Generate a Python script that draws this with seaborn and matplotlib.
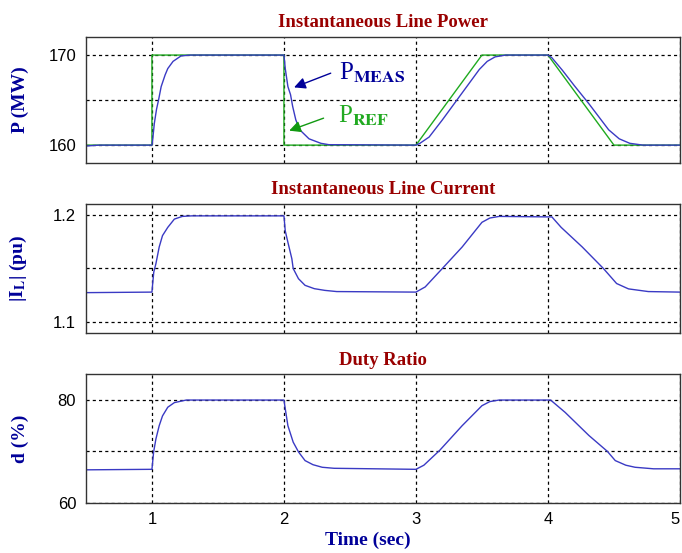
import matplotlib
matplotlib.use("Agg")
import matplotlib.pyplot as plt
import numpy as np
import pandas as pd
import seaborn as sns

# ---- data ----
t_ref = [0.5, 1.0, 1.0, 2.0, 2.0, 3.0, 3.5, 4.0, 4.5, 5.0]
p_ref = [160, 160, 170, 170, 160, 160, 170, 170, 160, 160]

t_meas = [0.5, 0.6, 1.0, 1.005, 1.018, 1.035, 1.05, 1.07, 1.10, 1.12, 1.16, 1.22, 1.29,
          2.0, 2.01, 2.03, 2.05, 2.066, 2.09, 2.12, 2.19, 2.28, 2.34,
          3.0, 3.03, 3.1, 3.2, 3.31, 3.40, 3.48, 3.54, 3.6, 3.68,
          4.0, 4.03, 4.11, 4.2, 4.31, 4.46, 4.54, 4.62, 4.72, 5.0]
p_meas = [159.9, 160.0, 160.0, 160.5, 162.4, 164.0, 165.0, 166.5, 167.8, 168.5, 169.3, 169.9, 170.0,
          170.0, 168.5, 166.5, 165.6, 164.3, 162.8, 161.7, 160.7, 160.2, 160.05,
          160.0, 160.2, 160.9, 162.8, 165.0, 166.8, 168.4, 169.3, 169.8, 170.0,
          170.0, 169.7, 168.3, 166.6, 164.6, 161.7, 160.7, 160.2, 160.0, 160.0]

t_cur = [0.5, 1.0, 1.005, 1.014, 1.03, 1.055, 1.08, 1.12, 1.17, 1.23, 1.3,
         2.0, 2.01, 2.03, 2.06, 2.07, 2.11, 2.16, 2.23, 2.31, 2.4,
         3.0, 3.07, 3.2, 3.35, 3.5, 3.56, 3.63,
         4.03, 4.1, 4.26, 4.42, 4.52, 4.61, 4.76, 5.0]
i_cur = [1.1275, 1.128, 1.135, 1.1467, 1.1544, 1.170, 1.1806, 1.1883, 1.196, 1.1985, 1.199,
         1.199, 1.185, 1.1744, 1.159, 1.150, 1.1405, 1.1343, 1.1312, 1.1296, 1.1285,
         1.128, 1.1328, 1.150, 1.170, 1.193, 1.197, 1.1985,
         1.198, 1.1883, 1.170, 1.150, 1.136, 1.131, 1.1285, 1.128]

t_duty = [0.5, 1.0, 1.013, 1.03, 1.055, 1.08, 1.12, 1.17, 1.26,
          2.0, 2.01, 2.03, 2.07, 2.11, 2.16, 2.22, 2.29, 2.38,
          3.0, 3.06, 3.18, 3.35, 3.5, 3.56, 3.63,
          4.02, 4.13, 4.31, 4.45, 4.51, 4.59, 4.66, 4.8, 5.0]
d_duty = [66.4, 66.5, 69.9, 72.4, 75.0, 76.9, 78.6, 79.5, 80.0,
          80.0, 78.3, 75.0, 71.8, 69.9, 68.2, 67.4, 66.9, 66.7,
          66.5, 67.3, 70.2, 75.0, 78.9, 79.7, 80.0,
          80.0, 77.6, 73.1, 70.0, 68.2, 67.3, 66.9, 66.6, 66.6]

x_ticks = [1, 2, 3, 4, 5]

sns.set_theme(style="white")
plt.rcParams["font.family"] = ["Liberation Sans", "DejaVu Sans"]
plt.rcParams["mathtext.fontset"] = "stix"

BLUE = "#3a3ac4"
GREEN = "#1faa1f"
TITLE_RED = "#990000"
LABEL_BLUE = "#000099"
serif = dict(family="Liberation Serif", weight="bold")

fig = plt.figure(figsize=(6.82, 5.53), dpi=100)
ax1 = fig.add_axes([0.126, 0.705, 0.871, 0.228])
ax2 = fig.add_axes([0.126, 0.398, 0.871, 0.233])
ax3 = fig.add_axes([0.126, 0.091, 0.871, 0.232])

sns.lineplot(x=t_ref, y=p_ref, ax=ax1, color=GREEN, lw=1.0, estimator=None, sort=False)
sns.lineplot(x=t_meas, y=p_meas, ax=ax1, color=BLUE, lw=1.0, estimator=None, sort=False)
sns.lineplot(x=t_cur, y=i_cur, ax=ax2, color=BLUE, lw=1.0, estimator=None, sort=False)
sns.lineplot(x=t_duty, y=d_duty, ax=ax3, color=BLUE, lw=1.0, estimator=None, sort=False)

panels = [
    (ax1, "Instantaneous Line Power", "P (MW)", (158, 172), [160, 165, 170], ["160", "", "170"]),
    (ax2, "Instantaneous Line Current", r"|I$_\mathbf{L}$| (pu)", (1.09, 1.21), [1.1, 1.15, 1.2], ["1.1", "", "1.2"]),
    (ax3, "Duty Ratio", "d (%)", (60, 85), [60, 70, 80], ["60", "", "80"]),
]
for ax, title, ylab, ylim, yt, ytl in panels:
    ax.set_xlim(0.5, 5)
    ax.set_ylim(*ylim)
    ax.set_xticks(x_ticks)
    ax.set_yticks(yt)
    ax.set_yticklabels(ytl)
    ax.grid(True, color="black", linestyle=(0, (2.5, 2.5)), lw=0.9)
    ax.tick_params(axis="both", direction="in", length=0, labelsize=12, colors="black", pad=7)
    for s in ax.spines.values():
        s.set_color("#333333")
        s.set_linewidth(1.0)
    ax.set_title(title, color=TITLE_RED, fontsize=13.5, pad=7, **serif)
    ax.set_ylabel(ylab, color=LABEL_BLUE, fontsize=14, **serif)
    ax.yaxis.set_label_coords(-0.095, 0.5)
    ax.set_xlabel("")

ax1.set_xticklabels([])
ax2.set_xticklabels([])
ax3.set_xlabel("Time (sec)", color=LABEL_BLUE, fontsize=14, **serif)
ax3.xaxis.set_label_coords(0.475, -0.23)
# last tick label sits on the right edge, keep it inside the figure
ax3.get_xticklabels()[-1].set_horizontalalignment("right")

# annotations
ax1.annotate("", xy=(2.057, 166.3), xytext=(2.374, 168.1),
             arrowprops=dict(arrowstyle="-|>", color="#000099", lw=1.0, mutation_scale=17))
ax1.text(2.42, 167.3, r"P$_{\mathbf{MEAS}}$", color="#000099", fontsize=18,
         family="Liberation Serif", va="baseline")
ax1.annotate("", xy=(2.02, 161.5), xytext=(2.32, 163.1),
             arrowprops=dict(arrowstyle="-|>", color="#119911", lw=1.0, mutation_scale=17))
ax1.text(2.41, 162.5, r"P$_{\mathbf{REF}}$", color="#22aa22", fontsize=18,
         family="Liberation Serif", va="baseline")

fig.savefig("out.png", dpi=100)
